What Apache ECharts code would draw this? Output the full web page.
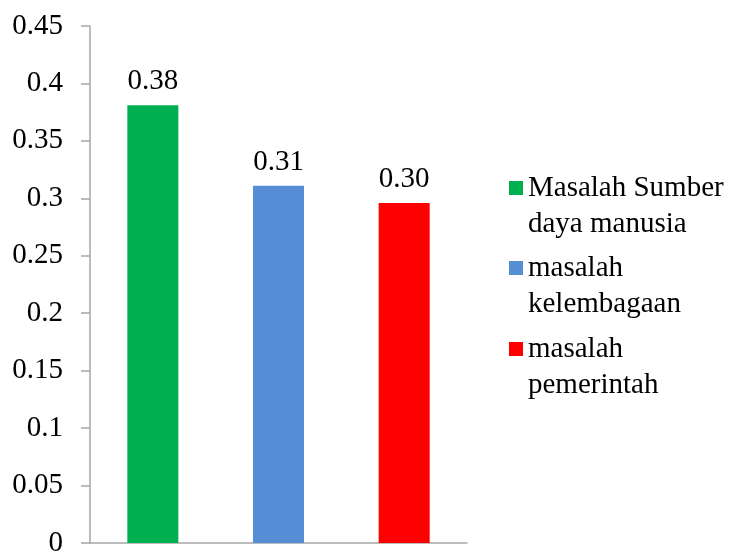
<!DOCTYPE html>
<html>
<head>
<meta charset="utf-8">
<script src="https://cdn.jsdelivr.net/npm/echarts@6/dist/echarts.min.js"></script>
<style>
  html, body { margin: 0; padding: 0; background: #fff; }
  #chart { width: 730px; height: 552px; }
</style>
</head>
<body>
<div id="chart"></div>
<script>
// Problem categories and their scores
const categories = ['Masalah Sumber daya manusia', 'masalah kelembagaan', 'masalah pemerintah'];
const legendLabels = ['Masalah Sumber\ndaya manusia', 'masalah\nkelembagaan', 'masalah\npemerintah'];
const scores = [0.381, 0.311, 0.296];
const colors = ['#00B050', '#558ED5', '#FF0000'];

const FONT = '"Liberation Serif", "Times New Roman", serif';
const FONT_SIZE = 29;
const LINE_H = 36;

// One series per category so each gets its own legend entry; stacking keeps bars centred
const series = categories.map((name, i) => ({
  name: name,
  type: 'bar',
  stack: 'all',
  barWidth: '40.6%',
  itemStyle: { color: colors[i] },
  data: categories.map((c, j) => (j === i ? scores[i] : null)),
  label: {
    show: true,
    position: 'top',
    distance: 9,
    fontFamily: FONT,
    fontSize: FONT_SIZE,
    color: '#000',
    formatter: p => p.value.toFixed(2)
  }
}));

// Separate legend blocks; a blank leading line puts the marker beside the first text line
const legendCenters = [188, 268, 349];
const legends = categories.map((name, i) => ({
  data: [name],
  orient: 'vertical',
  left: 509,
  top: legendCenters[i] - LINE_H * 1.5,
  padding: 0,
  itemWidth: 14,
  itemHeight: 14,
  itemGap: 0,
  align: 'left',
  icon: 'rect',
  selectedMode: false,
  formatter: () => ' \n' + legendLabels[i],
  textStyle: {
    fontFamily: FONT,
    fontSize: FONT_SIZE,
    color: '#000',
    lineHeight: LINE_H
  }
}));

const chart = echarts.init(document.getElementById('chart'), null, { renderer: 'canvas' });
chart.setOption({
  animation: false,
  backgroundColor: '#fff',
  grid: { left: 90, right: 263, top: 26, bottom: 9, containLabel: false, outerBoundsMode: 'none' },
  legend: legends,
  xAxis: {
    type: 'category',
    data: categories,
    axisLine: { lineStyle: { color: '#A6A6A6', width: 1.5 } },
    axisTick: { show: false },
    axisLabel: { show: false }
  },
  yAxis: {
    type: 'value',
    min: 0,
    max: 0.45,
    interval: 0.05,
    axisLine: { show: true, lineStyle: { color: '#A6A6A6', width: 1.5 } },
    axisTick: { show: true, length: 9, lineStyle: { color: '#A6A6A6', width: 1.5 } },
    splitLine: { show: false },
    axisLabel: {
      margin: 27,
      fontFamily: FONT,
      fontSize: FONT_SIZE,
      color: '#000',
      formatter: v => String(parseFloat(v.toFixed(2)))
    }
  },
  series: series
});
</script>
</body>
</html>
